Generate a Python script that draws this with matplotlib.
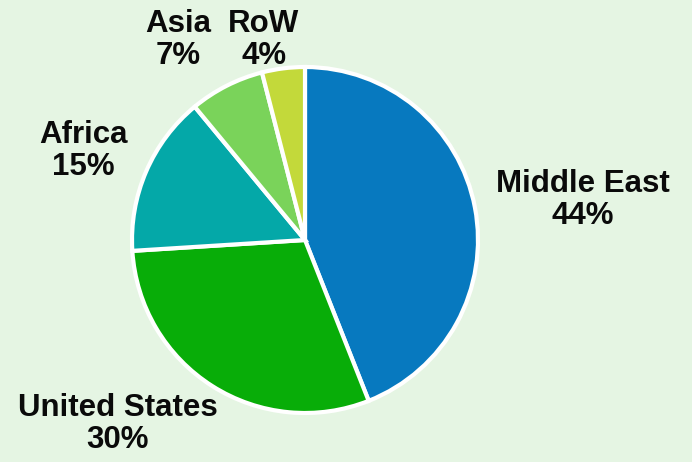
import matplotlib
matplotlib.use("Agg")
import matplotlib.pyplot as plt

regions = ["Middle East", "United States", "Africa", "Asia", "RoW"]
shares = [44, 30, 15, 7, 4]
colors = ["#0779BF", "#08AD08", "#04A8A8", "#7AD35A", "#C3D93A"]

# label anchor positions (pixels from top-left)
label_pos = [(583, 200), (118, 424), (83, 151), (178, 40), (264, 40)]

W, H = 692, 462
fig = plt.figure(figsize=(W / 100, H / 100), dpi=100)
fig.patch.set_facecolor("#E5F5E3")
ax = fig.add_axes([0, 0, 1, 1])
ax.set_facecolor("#E5F5E3")

cx, cy, r = 305, H - 240, 173
ax.pie(shares, colors=colors, startangle=90, counterclock=False,
       center=(cx, cy), radius=r,
       wedgeprops=dict(edgecolor="white", linewidth=3))
ax.set_xlim(0, W)
ax.set_ylim(0, H)
ax.set_aspect("equal")
ax.axis("off")

for name, val, (x, y) in zip(regions, shares, label_pos):
    ax.text(x, H - y, f"{name}\n{val}%", ha="center", va="center",
            fontsize=22.5, fontweight="bold", family="Liberation Sans",
            color="#0a0a0a", linespacing=1.12)

fig.savefig("out.png", dpi=100, facecolor=fig.get_facecolor())
